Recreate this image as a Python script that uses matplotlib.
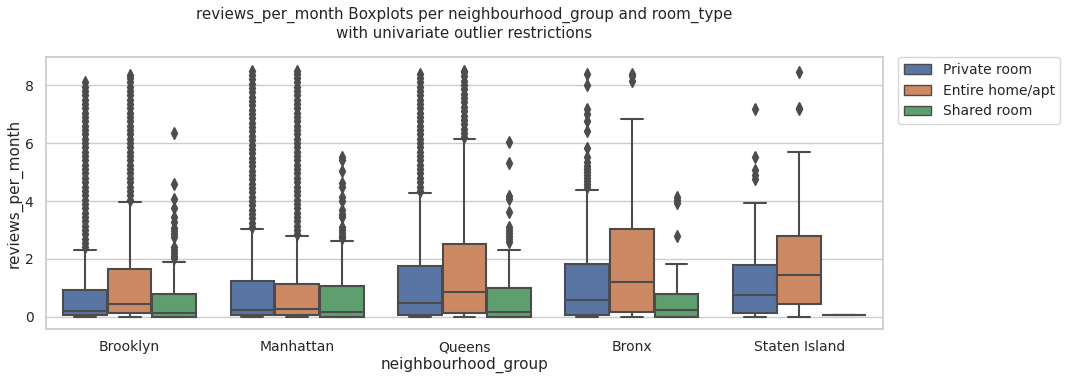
import matplotlib
matplotlib.use('Agg')
import matplotlib.pyplot as plt
import matplotlib.patches as mpatches
import seaborn as sns

groups = ['Brooklyn', 'Manhattan', 'Queens', 'Bronx', 'Staten Island']
room_types = ['Private room', 'Entire home/apt', 'Shared room']

# per room type, per neighbourhood group
q1 = [[0.05, 0.05, 0.05, 0.07, 0.14],
      [0.13, 0.05, 0.13, 0.18, 0.45],
      [0.01, 0.01, 0.01, 0.01, 0.07]]
medians = [[0.20, 0.25, 0.49, 0.60, 0.77],
           [0.43, 0.29, 0.86, 1.22, 1.43],
           [0.15, 0.18, 0.18, 0.23, 0.07]]
q3 = [[0.93, 1.25, 1.76, 1.83, 1.79],
      [1.67, 1.13, 2.52, 3.03, 2.79],
      [0.79, 1.07, 1.00, 0.79, 0.07]]
whis_lo = [[0.01, 0.01, 0.01, 0.01, 0.01],
           [0.01, 0.01, 0.01, 0.01, 0.01],
           [0.01, 0.01, 0.01, 0.01, 0.07]]
whis_hi = [[2.32, 3.05, 4.29, 4.39, 3.94],
           [3.98, 2.79, 6.15, 6.83, 5.70],
           [1.91, 2.63, 2.32, 1.84, 0.07]]

fliers_private = [
    [2.4, 2.55, 2.7, 2.85, 3.0, 3.15, 3.3, 3.45, 3.6, 3.75, 3.9, 4.05, 4.2, 4.35, 4.5,
     4.65, 4.8, 4.95, 5.1, 5.25, 5.4, 5.55, 5.7, 5.85, 6.0, 6.15, 6.3, 6.45, 6.6, 6.75,
     6.9, 7.05, 7.2, 7.35, 7.5, 7.65, 7.8, 7.95, 8.1],
    [3.1, 3.25, 3.4, 3.55, 3.7, 3.85, 4.0, 4.15, 4.3, 4.45, 4.6, 4.75, 4.9, 5.05, 5.2,
     5.35, 5.5, 5.65, 5.8, 5.95, 6.1, 6.25, 6.4, 6.55, 6.7, 6.85, 7.0, 7.15, 7.3, 7.45,
     7.6, 7.75, 7.9, 8.05, 8.2, 8.35, 8.5],
    [4.35, 4.5, 4.65, 4.8, 4.95, 5.1, 5.25, 5.4, 5.55, 5.7, 5.85, 6.0, 6.15, 6.3, 6.45,
     6.6, 6.75, 6.9, 7.05, 7.2, 7.35, 7.5, 7.65, 7.8, 7.95, 8.1, 8.25, 8.4],
    [4.5, 4.6, 4.7, 4.8, 4.9, 5.0, 5.1, 5.2, 5.35, 5.53, 5.82, 6.41, 6.76, 7.02, 7.16,
     8.02, 8.4],
    [4.75, 4.9, 5.07, 5.51, 7.16],
]
fliers_entire = [
    [4.05, 4.2, 4.35, 4.5, 4.65, 4.8, 4.95, 5.1, 5.25, 5.4, 5.55, 5.7, 5.85, 6.0, 6.15,
     6.3, 6.45, 6.6, 6.75, 6.9, 7.05, 7.2, 7.35, 7.5, 7.65, 7.8, 7.95, 8.1, 8.25, 8.35],
    [2.85, 3.0, 3.15, 3.3, 3.45, 3.6, 3.75, 3.9, 4.05, 4.2, 4.35, 4.5, 4.65, 4.8, 4.95,
     5.1, 5.25, 5.4, 5.55, 5.7, 5.85, 6.0, 6.15, 6.3, 6.45, 6.6, 6.75, 6.9, 7.05, 7.2,
     7.35, 7.5, 7.65, 7.8, 7.95, 8.1, 8.25, 8.4, 8.5],
    [6.2, 6.35, 6.5, 6.65, 6.8, 6.95, 7.1, 7.25, 7.4, 7.55, 7.7, 7.85, 8.0, 8.15, 8.3,
     8.45, 8.5],
    [8.15, 8.3, 8.4],
    [7.16, 7.22, 8.46],
]
fliers_shared = [
    [2.02, 2.1, 2.2, 2.3, 2.42, 2.77, 2.85, 2.95, 3.06, 3.29, 3.46, 3.75, 4.06, 4.57, 6.33],
    [2.71, 2.8, 2.9, 3.0, 3.11, 3.46, 3.55, 3.69, 4.0, 4.15, 4.5, 4.61, 5.03, 5.41, 5.53],
    [2.6, 2.7, 2.8, 2.9, 3.0, 3.11, 3.63, 4.06, 4.17, 5.3, 6.02],
    [2.79, 3.92, 4.05, 4.15],
    [],
]
fliers = [fliers_private, fliers_entire, fliers_shared]

sns.set_theme(style='whitegrid')
plt.rcParams['font.family'] = ['DejaVu Sans']

palette = [sns.desaturate(c, .75) for c in sns.color_palette('deep', 3)]
gray = '#4c4c4c'

fig, ax = plt.subplots(figsize=(10.67, 3.8), dpi=100)
fig.subplots_adjust(left=0.043, right=0.8276, top=0.85, bottom=0.134)

n_hue = len(room_types)
each = 0.8 / n_hue
for j, room in enumerate(room_types):
    stats = []
    for i in range(len(groups)):
        stats.append({'med': medians[j][i], 'q1': q1[j][i], 'q3': q3[j][i],
                      'whislo': whis_lo[j][i], 'whishi': whis_hi[j][i],
                      'fliers': fliers[j][i]})
    positions = [i + (j - (n_hue - 1) / 2) * each for i in range(len(groups))]
    ax.bxp(stats, positions=positions, widths=each * 0.98, patch_artist=True,
           manage_ticks=False,
           boxprops=dict(facecolor=palette[j], edgecolor=gray, linewidth=1.5),
           whiskerprops=dict(color=gray, linewidth=1.5),
           capprops=dict(color=gray, linewidth=1.5),
           medianprops=dict(color=gray, linewidth=1.5),
           flierprops=dict(marker='d', markerfacecolor=gray, markeredgecolor=gray,
                           markersize=5.8, linestyle='none'))

ax.set_xticks(range(len(groups)))
ax.set_xticklabels(groups, fontsize=10)
ax.set_xlim(-0.5, len(groups) - 0.5)
ax.set_yticks([0, 2, 4, 6, 8])
ax.tick_params(axis='y', labelsize=10, pad=3)
ax.tick_params(axis='x', pad=2)
ax.set_ylim(-0.42, 8.97)
ax.xaxis.grid(False)
ax.set_xlabel('neighbourhood_group', fontsize=11, labelpad=2)
ax.set_ylabel('reviews_per_month', fontsize=11, labelpad=1)
ax.set_title('reviews_per_month Boxplots per neighbourhood_group and room_type\n'
             'with univariate outlier restrictions', fontsize=10.9, pad=14)

handles = [mpatches.Patch(facecolor=palette[j], edgecolor=gray, linewidth=1, label=r)
           for j, r in enumerate(room_types)]
ax.legend(handles=handles, bbox_to_anchor=(1.018, 1), loc='upper left',
          borderaxespad=0, fontsize=10)

fig.savefig('out.png', dpi=100)
